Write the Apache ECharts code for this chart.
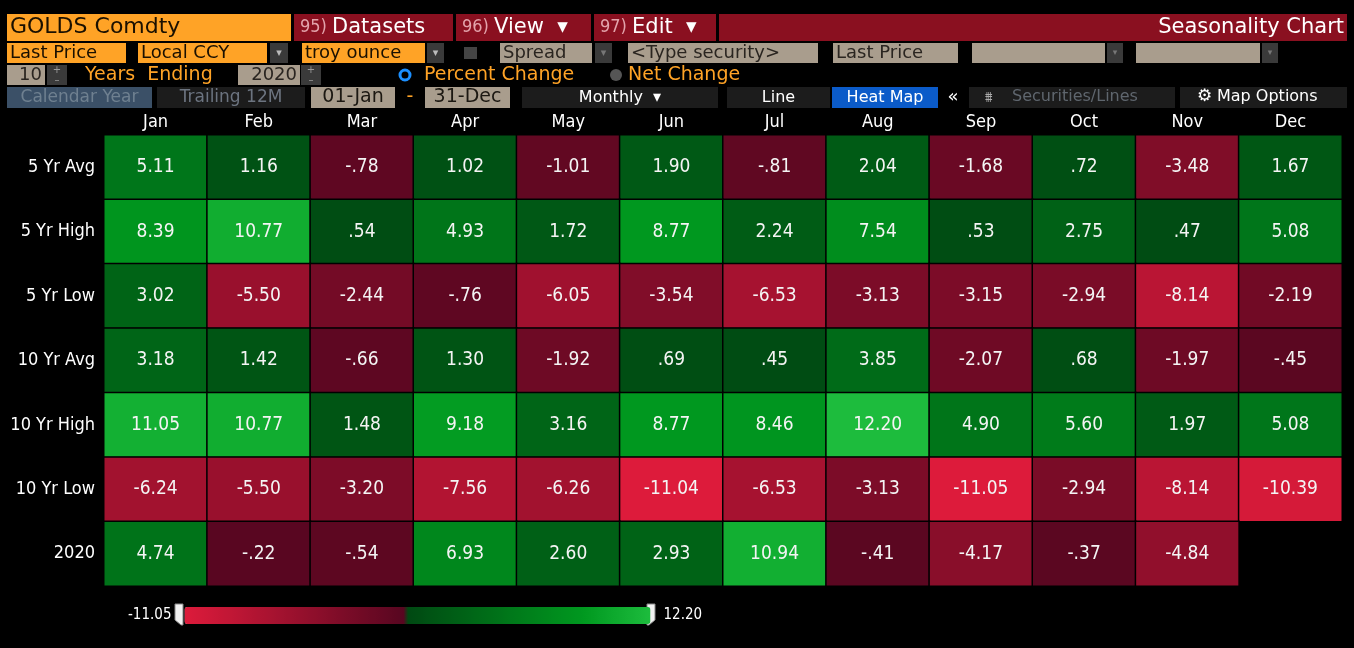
<!DOCTYPE html>
<html>
<head>
<meta charset="utf-8">
<title>Seasonality Chart</title>
<script src="https://cdn.jsdelivr.net/npm/echarts@6/dist/echarts.min.js"></script>
<style>
  html, body { margin: 0; padding: 0; background: #000; }
  #main { width: 1354px; height: 648px; }
</style>
</head>
<body>
<div id="main"></div>
<script>
var months = ['Jan', 'Feb', 'Mar', 'Apr', 'May', 'Jun', 'Jul', 'Aug', 'Sep', 'Oct', 'Nov', 'Dec'];
var rowLabels = ['5 Yr Avg', '5 Yr High', '5 Yr Low', '10 Yr Avg', '10 Yr High', '10 Yr Low', '2020'];

// % change per month
var avg5   = [5.11, 1.16, -0.78, 1.02, -1.01, 1.90, -0.81, 2.04, -1.68, 0.72, -3.48, 1.67];
var high5  = [8.39, 10.77, 0.54, 4.93, 1.72, 8.77, 2.24, 7.54, 0.53, 2.75, 0.47, 5.08];
var low5   = [3.02, -5.50, -2.44, -0.76, -6.05, -3.54, -6.53, -3.13, -3.15, -2.94, -8.14, -2.19];
var avg10  = [3.18, 1.42, -0.66, 1.30, -1.92, 0.69, 0.45, 3.85, -2.07, 0.68, -1.97, -0.45];
var high10 = [11.05, 10.77, 1.48, 9.18, 3.16, 8.77, 8.46, 12.20, 4.90, 5.60, 1.97, 5.08];
var low10  = [-6.24, -5.50, -3.20, -7.56, -6.26, -11.04, -6.53, -3.13, -11.05, -2.94, -8.14, -10.39];
var y2020  = [4.74, -0.22, -0.54, 6.93, 2.60, 2.93, 10.94, -0.41, -4.17, -0.37, -4.84, null];

var scaleMin = -11.05;
var scaleMax = 12.20;

var rows = [avg5, high5, low5, avg10, high10, low10, y2020];
var heatData = [];
rows.forEach(function (row, r) {
  row.forEach(function (v, m) {
    if (v !== null) heatData.push([m, r, v]);
  });
});

// colour ramp: bright red -> maroon below zero, dark green -> bright green above
function hex(c) { return [parseInt(c.substr(1, 2), 16), parseInt(c.substr(3, 2), 16), parseInt(c.substr(5, 2), 16)]; }
function mix(a, b, t) {
  var x = hex(a), y = hex(b);
  return 'rgb(' + x.map(function (k, i) { return Math.round(k + (y[i] - k) * t); }).join(',') + ')';
}
function rampColor(v) {
  if (v < 0) return mix('#dd1b3b', '#560620', (v - scaleMin) / (0 - scaleMin));
  var t = v / scaleMax;
  if (t < 0.72) return mix('#004812', '#00981f', t / 0.72);
  return mix('#00981f', '#1dbc3d', (t - 0.72) / 0.28);
}
var rampStops = [];
for (var i = 0; i <= 930; i++) {
  rampStops.push(rampColor(scaleMin + (scaleMax - scaleMin) * i / 930));
}

function fmt(v) {
  return v.toFixed(2).replace(/^(-?)0\./, '$1.');
}

// --- terminal toolbar bits ---
var UI = '"DejaVu Sans", sans-serif';
var NARROW = '"Liberation Sans Narrow", "DejaVu Sans Condensed", sans-serif';
var ORANGE = '#ffa326', TAN = '#a99d8d', DARKRED = '#8a1020', BTN = '#1c1c1c', DROP = '#3a3a3a';

function box(x, y, w, h, fill, txt, color, size, align) {
  var kids = [{ type: 'rect', shape: { x: x, y: y, width: w, height: h }, style: { fill: fill } }];
  if (txt) {
    var tx = align === 'center' ? x + w / 2 : (align === 'right' ? x + w - 3 : x + 3);
    kids.push({
      type: 'text', x: tx, y: y + h / 2,
      style: { text: txt, fill: color, font: size + 'px ' + UI, align: align || 'left', verticalAlign: 'middle' }
    });
  }
  return { type: 'group', children: kids };
}
function label(x, y, txt, color, size, align) {
  return { type: 'text', x: x, y: y, style: { text: txt, fill: color, font: size + 'px ' + UI, align: align || 'left', verticalAlign: 'middle' } };
}
function menuBtn(x, w, num, txt) {
  return {
    type: 'group', children: [
      { type: 'rect', shape: { x: x, y: 14, width: w, height: 27 }, style: { fill: DARKRED } },
      {
        type: 'text', x: x + 6, y: 27.5,
        style: {
          text: '{n|' + num + '}{t|' + txt + '}', verticalAlign: 'middle',
          rich: {
            n: { fill: '#e3a3ab', font: '18px ' + NARROW },
            t: { fill: '#fff', font: '21px ' + UI }
          }
        }
      }
    ]
  };
}
// little white flags at the ends of the colour bar
function flag(x, flip) {
  var p = flip
    ? [[x, 604], [x + 8, 604], [x + 8, 620], [x + 2, 625], [x, 625]]
    : [[x, 604], [x + 8, 604], [x + 8, 625], [x + 6, 625], [x, 620]];
  return { type: 'polygon', shape: { points: p }, style: { fill: '#f2f2f2', stroke: '#888', lineWidth: 1 } };
}

var toolbar = [
  box(7, 14, 284, 27, ORANGE, 'GOLDS Comdty', '#1a1000', 22),
  menuBtn(294, 159, '95) ', 'Datasets'),
  menuBtn(456, 135, '96) ', 'View  ▾'),
  menuBtn(594, 122, '97) ', 'Edit  ▾'),
  box(719, 14, 628, 27, DARKRED, 'Seasonality Chart', '#fff', 21, 'right'),

  box(7, 43, 119, 20, ORANGE, 'Last Price', '#1a1000', 18),
  box(138, 43, 129, 20, ORANGE, 'Local CCY', '#1a1000', 18),
  box(270, 43, 18, 20, DROP, '▾', '#bbb', 11, 'center'),
  box(302, 43, 123, 20, ORANGE, 'troy ounce', '#1a1000', 18),
  box(427, 43, 17, 20, DROP, '▾', '#bbb', 11, 'center'),
  box(464, 47, 13, 12, '#444', '', '', 0),
  box(500, 43, 92, 20, TAN, 'Spread', '#2a2520', 18),
  box(595, 43, 17, 20, DROP, '▾', '#777', 11, 'center'),
  box(628, 43, 190, 20, TAN, '<Type security>', '#2a2520', 18),
  box(833, 43, 125, 20, TAN, 'Last Price', '#2a2520', 18),
  box(972, 43, 133, 20, TAN, '', '', 0),
  box(1107, 43, 16, 20, DROP, '▾', '#777', 9, 'center'),
  box(1136, 43, 124, 20, TAN, '', '', 0),
  box(1262, 43, 16, 20, DROP, '▾', '#777', 9, 'center'),

  box(7, 65, 38, 20, TAN, '10', '#2a2520', 18, 'right'),
  box(47, 65, 20, 20, DROP, '', '', 0),
  label(57, 70, '+', '#999', 10, 'center'),
  label(57, 80, '–', '#999', 10, 'center'),
  label(85, 75, 'Years  Ending', ORANGE, 19),
  box(238, 65, 62, 20, TAN, '2020', '#2a2520', 18, 'right'),
  box(301, 65, 20, 20, DROP, '', '', 0),
  label(311, 70, '+', '#999', 10, 'center'),
  label(311, 80, '–', '#999', 10, 'center'),
  { type: 'circle', shape: { cx: 405, cy: 75, r: 5 }, style: { fill: '#000', stroke: '#1b8fff', lineWidth: 3 } },
  label(424, 75, 'Percent Change', ORANGE, 19),
  { type: 'circle', shape: { cx: 616, cy: 75, r: 6 }, style: { fill: '#555' } },
  label(628, 75, 'Net Change', ORANGE, 19),

  box(7, 87, 145, 21, '#3b5067', 'Calendar Year', '#6f8090', 17, 'center'),
  box(157, 87, 148, 21, BTN, 'Trailing 12M', '#6c7480', 17, 'center'),
  box(311, 87, 84, 21, TAN, '01-Jan', '#1c1812', 19, 'center'),
  label(410, 97, '-', ORANGE, 19, 'center'),
  box(425, 87, 85, 21, TAN, '31-Dec', '#1c1812', 19, 'center'),
  box(522, 87, 196, 21, BTN, 'Monthly  ▾', '#fff', 16, 'center'),
  box(727, 87, 103, 21, BTN, 'Line', '#fff', 16, 'center'),
  box(832, 87, 106, 21, '#0b5bc9', 'Heat Map', '#fff', 16, 'center'),
  label(953, 97, '«', '#fff', 18, 'center'),
  box(969, 87, 206, 21, BTN, '', '', 0),
  label(985, 98, '⩩', '#aaa', 14, 'left'),
  label(1012, 97, 'Securities/Lines', '#5f666e', 16),
  box(1180, 87, 167, 21, BTN, '', '', 0),
  label(1197, 97, '⚙', '#fff', 17, 'left'),
  label(1217, 97, 'Map Options', '#fff', 16),

  flag(175, false),
  flag(647, true)
];

var chart = echarts.init(document.getElementById('main'));

var option = {
  backgroundColor: '#000',
  animation: false,
  graphic: toolbar,
  grid: {
    left: 104,
    right: 12,
    top: 135,
    bottom: 62
  },
  xAxis: {
    type: 'category',
    position: 'top',
    data: months,
    axisLine: { lineStyle: { color: '#ddd', width: 1 } },
    axisTick: { length: 4, lineStyle: { color: '#ddd' } },
    axisLabel: { color: '#fff', fontSize: 18, fontFamily: NARROW, margin: 4 },
    splitArea: { show: false }
  },
  yAxis: {
    type: 'category',
    inverse: true,
    data: rowLabels,
    axisLine: { lineStyle: { color: '#ddd', width: 1 } },
    axisTick: { length: 5, lineStyle: { color: '#ddd' } },
    axisLabel: { color: '#fff', fontSize: 18, fontFamily: NARROW, margin: 9 }
  },
  visualMap: {
    type: 'continuous',
    min: scaleMin,
    max: scaleMax,
    orient: 'horizontal',
    left: 113,
    top: 592,
    itemWidth: 17,
    itemHeight: 466,
    calculable: false,
    text: ['12.20', '-11.05'],
    textGap: 13,
    textStyle: { color: '#fff', fontSize: 15, fontFamily: NARROW },
    inRange: { color: rampStops }
  },
  series: [{
    type: 'heatmap',
    data: heatData,
    itemStyle: { borderColor: '#000', borderWidth: 1.5 },
    label: {
      show: true,
      color: '#f4f4f4',
      fontSize: 19,
      fontFamily: NARROW,
      formatter: function (p) { return fmt(p.value[2]); }
    },
    emphasis: { disabled: true }
  }]
};

chart.setOption(option);
</script>
</body>
</html>
